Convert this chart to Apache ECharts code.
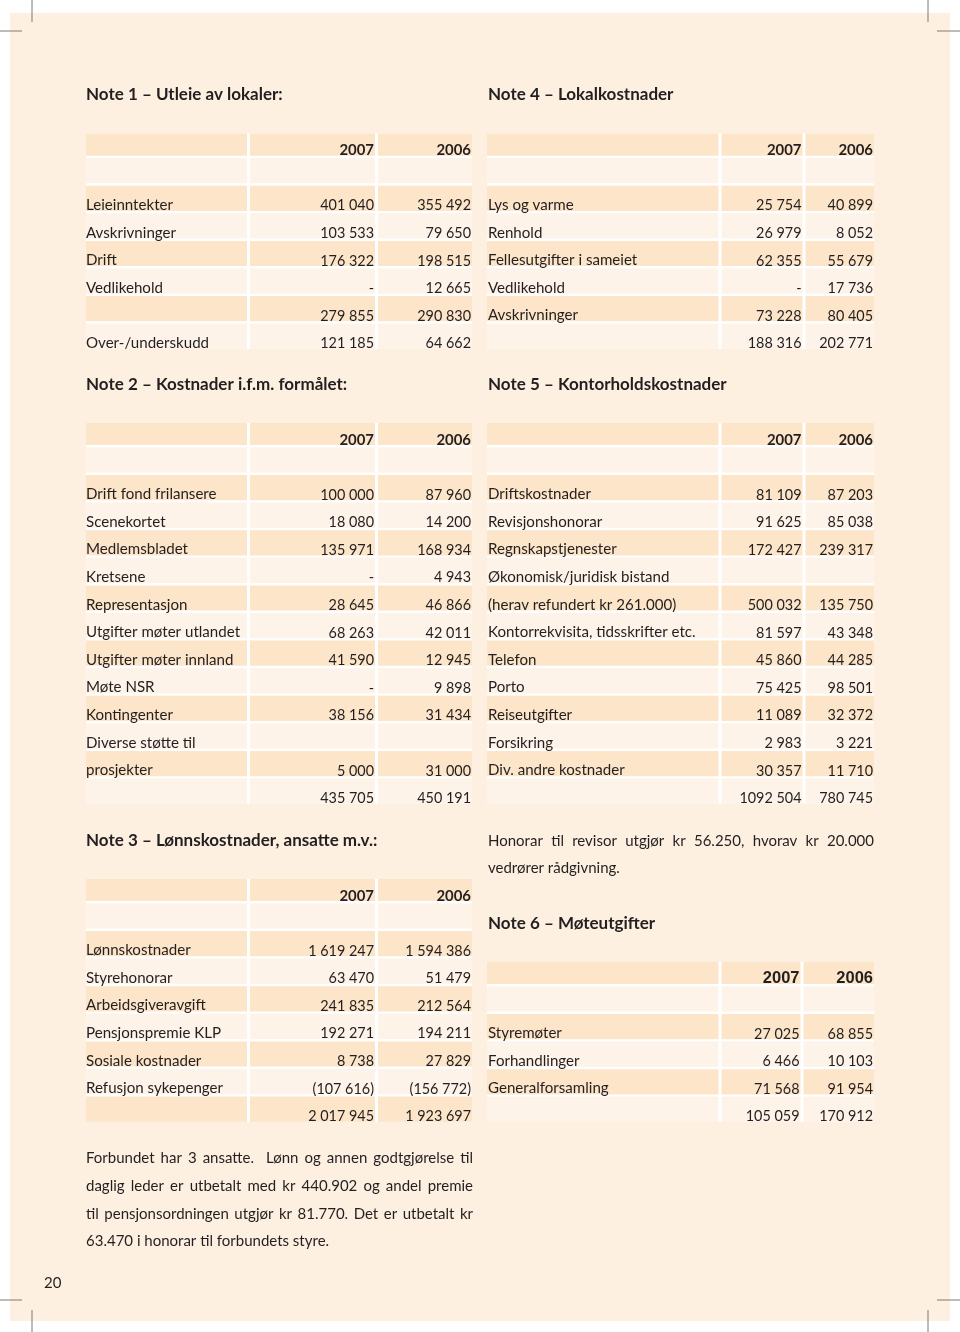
<!DOCTYPE html>
<html><head><meta charset="utf-8">
<script src="https://cdn.jsdelivr.net/npm/echarts@6/dist/echarts.min.js"></script>
<style>html,body{margin:0;padding:0;background:#fff}#c{width:960px;height:1332px}</style>
</head><body><div id="c"></div>
<script>
// ---------- DATA ----------
const years = ['2007', '2006'];

const note1Labels = ['Leieinntekter', 'Avskrivninger', 'Drift', 'Vedlikehold', '', 'Over-/underskudd'];
const note1V2007 = ['401 040', '103 533', '176 322', '-', '279 855', '121 185'];
const note1V2006 = ['355 492', '79 650', '198 515', '12 665', '290 830', '64 662'];

const note4Labels = ['Lys og varme', 'Renhold', 'Fellesutgifter i sameiet', 'Vedlikehold', 'Avskrivninger', ''];
const note4V2007 = ['25 754', '26 979', '62 355', '-', '73 228', '188 316'];
const note4V2006 = ['40 899', '8 052', '55 679', '17 736', '80 405', '202 771'];

const note2Labels = ['Drift fond frilansere', 'Scenekortet', 'Medlemsbladet', 'Kretsene', 'Representasjon',
  'Utgifter møter utlandet', 'Utgifter møter innland', 'Møte NSR', 'Kontingenter', 'Diverse støtte til', 'prosjekter', ''];
const note2V2007 = ['100 000', '18 080', '135 971', '-', '28 645', '68 263', '41 590', '-', '38 156', '', '5 000', '435 705'];
const note2V2006 = ['87 960', '14 200', '168 934', '4 943', '46 866', '42 011', '12 945', '9 898', '31 434', '', '31 000', '450 191'];

const note5Labels = ['Driftskostnader', 'Revisjonshonorar', 'Regnskapstjenester', 'Økonomisk/juridisk bistand',
  '(herav refundert kr 261.000)', 'Kontorrekvisita, tidsskrifter etc.', 'Telefon', 'Porto', 'Reiseutgifter',
  'Forsikring', 'Div. andre kostnader', ''];
const note5V2007 = ['81 109', '91 625', '172 427', '', '500 032', '81 597', '45 860', '75 425', '11 089', '2 983', '30 357', '1092 504'];
const note5V2006 = ['87 203', '85 038', '239 317', '', '135 750', '43 348', '44 285', '98 501', '32 372', '3 221', '11 710', '780 745'];

const note3Labels = ['Lønnskostnader', 'Styrehonorar', 'Arbeidsgiveravgift', 'Pensjonspremie KLP',
  'Sosiale kostnader', 'Refusjon sykepenger', ''];
const note3V2007 = ['1 619 247', '63 470', '241 835', '192 271', '8 738', '(107 616)', '2 017 945'];
const note3V2006 = ['1 594 386', '51 479', '212 564', '194 211', '27 829', '(156 772)', '1 923 697'];

const note6Labels = ['Styremøter', 'Forhandlinger', 'Generalforsamling', ''];
const note6V2007 = ['27 025', '6 466', '71 568', '105 059'];
const note6V2006 = ['68 855', '10 103', '91 954', '170 912'];

const titles = ['Note 1 – Utleie av lokaler:', 'Note 4 – Lokalkostnader', 'Note 2 – Kostnader i.f.m. formålet:',
  'Note 5 – Kontorholdskostnader', 'Note 3 – Lønnskostnader, ansatte m.v.:', 'Note 6 – Møteutgifter'];

const revisorText = ['Honorar til revisor utgjør kr 56.250, hvorav kr 20.000', 'vedrører rådgivning.'];
const ansatteText = ['Forbundet har 3 ansatte.  Lønn og annen godtgjørelse til',
  'daglig leder er utbetalt med kr 440.902 og andel premie',
  'til pensjonsordningen utgjør kr 81.770. Det er utbetalt kr',
  '63.470 i honorar til forbundets styre.'];
const pageNumber = '20';

// ---------- STYLE / LAYOUT ----------
const FONT = 'Lato', INK = '#231f20';
const LABEL = 15.1, NUM = 14.4, HEAD = 14.9, TITLE = 17, PARA = 15;
const P = 27.6, G = 2.4;
const DARK = '#fce5c8', LIGHT = '#fef3e8', PANEL = '#fdf0e0';

const COLS_L = [[0, 161], [164, 289], [292, 386]];
const COLS_R = [[0, 231.5], [234.5, 315.5], [318.5, 387]];
const COLS_R6 = [[0, 231.5], [234.5, 313.5], [316.5, 387]];

const tables = [
  { left: 86, top: 130.5, cols: COLS_L, labels: note1Labels, a: note1V2007, b: note1V2006, lx: 0 },
  { left: 487, top: 130.5, cols: COLS_R, labels: note4Labels, a: note4V2007, b: note4V2006, lx: 1 },
  { left: 86, top: 419.8, cols: COLS_L, labels: note2Labels, a: note2V2007, b: note2V2006, lx: 0 },
  { left: 487, top: 419.8, cols: COLS_R, labels: note5Labels, a: note5V2007, b: note5V2006, lx: 1 },
  { left: 86, top: 875.8, cols: COLS_L, labels: note3Labels, a: note3V2007, b: note3V2006, lx: 0 },
  { left: 487, top: 958.8, cols: COLS_R6, labels: note6Labels, a: note6V2007, b: note6V2006, lx: 1,
    headFont: 'Liberation Sans', headSize: 16.5 }
];
const titlePos = [[86, 94.5], [488, 94.5], [86, 384.5], [488, 384.5], [86, 840.5], [488, 923.5]];

// ---------- BUILD ----------
const chart = echarts.init(document.getElementById('c'), null, { renderer: 'canvas', width: 960, height: 1332 });

const grids = [], xAxes = [], yAxes = [], series = [];
tables.forEach((t, i) => {
  const n = t.labels.length + 2;
  const W = t.cols[2][1];
  grids.push({ left: t.left, top: t.top, width: W, height: n * P, show: false });
  xAxes.push({ gridIndex: i, type: 'value', min: 0, max: W, show: false });
  yAxes.push({ gridIndex: i, type: 'category', inverse: true, show: false,
    data: Array.from({ length: n }, (_, k) => String(k)) });
  series.push({
    type: 'custom', xAxisIndex: i, yAxisIndex: i, silent: true, animation: false,
    data: Array.from({ length: n }, (_, k) => [0, k]),
    renderItem: function (params, api) {
      const k = api.value(1);
      const c = api.coord([0, k]);
      const h = api.size([0, 1])[1];
      const x0 = api.coord([t.cols[0][0], k])[0];
      const x1 = api.coord([t.cols[2][1], k])[0];
      const top = c[1] - h / 2 + (k === 0 ? 3 : 0);
      const bottom = c[1] + h / 2 - G;
      const last = k === n - 1;
      const children = [];
      children.push({ type: 'rect', shape: { x: x0, y: top, width: x1 - x0, height: (last ? bottom : c[1] + h / 2) - top },
        style: { fill: '#ffffff' } });
      const fill = k % 2 === 0 ? DARK : LIGHT;
      t.cols.forEach(col => {
        const a = api.coord([col[0], k])[0], b = api.coord([col[1], k])[0];
        children.push({ type: 'rect', shape: { x: a, y: top, width: b - a, height: bottom - top }, style: { fill: fill } });
      });
      const ty = bottom - 5.2;
      const rx1 = api.coord([t.cols[1][1], k])[0] - 1;
      const rx2 = api.coord([t.cols[2][1], k])[0] - 1;
      if (k === 0) {
        const hf = t.headFont || FONT, hs = t.headSize || HEAD;
        children.push({ type: 'text', style: { text: years[0], x: rx1, y: ty, align: 'right', verticalAlign: 'middle',
          fontFamily: hf, fontSize: hs, fontWeight: 'bold', fill: INK } });
        children.push({ type: 'text', style: { text: years[1], x: rx2, y: ty, align: 'right', verticalAlign: 'middle',
          fontFamily: hf, fontSize: hs, fontWeight: 'bold', fill: INK } });
      } else if (k >= 2) {
        const j = k - 2;
        const base = { verticalAlign: 'middle', fontFamily: FONT, fill: INK };
        children.push({ type: 'text', style: Object.assign({ text: t.labels[j], x: x0 + t.lx, y: ty - 0.6, align: 'left', fontSize: LABEL }, base) });
        children.push({ type: 'text', style: Object.assign({ text: t.a[j], x: rx1, y: ty, align: 'right', fontSize: NUM }, base) });
        children.push({ type: 'text', style: Object.assign({ text: t.b[j], x: rx2, y: ty, align: 'right', fontSize: NUM }, base) });
      }
      return { type: 'group', children: children };
    }
  });
});

// justified paragraph helper (layout only)
const ctx = document.createElement('canvas').getContext('2d');
function paraLine(text, x, y, width, justify, size) {
  ctx.font = size + 'px ' + FONT;
  if (!justify) {
    return [{ type: 'text', style: { text: text, x: x, y: y, align: 'left', verticalAlign: 'middle',
      fontFamily: FONT, fontSize: size, fill: INK } }];
  }
  const words = text.split(' ');
  const ws = words.map(w => ctx.measureText(w).width);
  const total = ws.reduce((s, v) => s + v, 0);
  const gap = (width - total) / (words.length - 1);
  const out = [];
  let cx = x;
  words.forEach((w, i) => {
    if (w) out.push({ type: 'text', style: { text: w, x: cx, y: y, align: 'left', verticalAlign: 'middle',
      fontFamily: FONT, fontSize: size, fill: INK } });
    cx += ws[i] + gap;
  });
  return out;
}

const graphics = [];
graphics.push({ type: 'rect', shape: { x: 10, y: 13, width: 940, height: 1308 }, style: { fill: PANEL }, z: -10 });
// crop marks
const cm = [[32, 0, 32, 22], [0, 31, 22, 31], [928, 0, 928, 22], [937, 31, 960, 31],
  [0, 1300, 22, 1300], [32, 1310, 32, 1332], [937, 1300, 960, 1300], [928, 1310, 928, 1332]];
cm.forEach(l => graphics.push({ type: 'line', shape: { x1: l[0], y1: l[1], x2: l[2], y2: l[3] },
  style: { stroke: '#7a7a7a', lineWidth: 1 } }));
titles.forEach((s, i) => graphics.push({ type: 'text', style: { text: s, x: titlePos[i][0], y: titlePos[i][1],
  verticalAlign: 'middle', fontFamily: FONT, fontSize: TITLE, fontWeight: 'bold', fill: INK } }));
paraLine(revisorText[0], 488, 841, 386, true, PARA).forEach(g => graphics.push(g));
paraLine(revisorText[1], 488, 868.5, 386, false, PARA).forEach(g => graphics.push(g));
ansatteText.forEach((s, i) => paraLine(s, 86, 1158.5 + i * 27.6, 387, i < 3, PARA).forEach(g => graphics.push(g)));
graphics.push({ type: 'text', style: { text: pageNumber, x: 44, y: 1283, verticalAlign: 'middle',
  fontFamily: FONT, fontSize: PARA, fill: INK } });

chart.setOption({
  animation: false,
  backgroundColor: '#ffffff',
  grid: grids, xAxis: xAxes, yAxis: yAxes, series: series,
  graphic: { elements: graphics }
});
</script></body></html>
